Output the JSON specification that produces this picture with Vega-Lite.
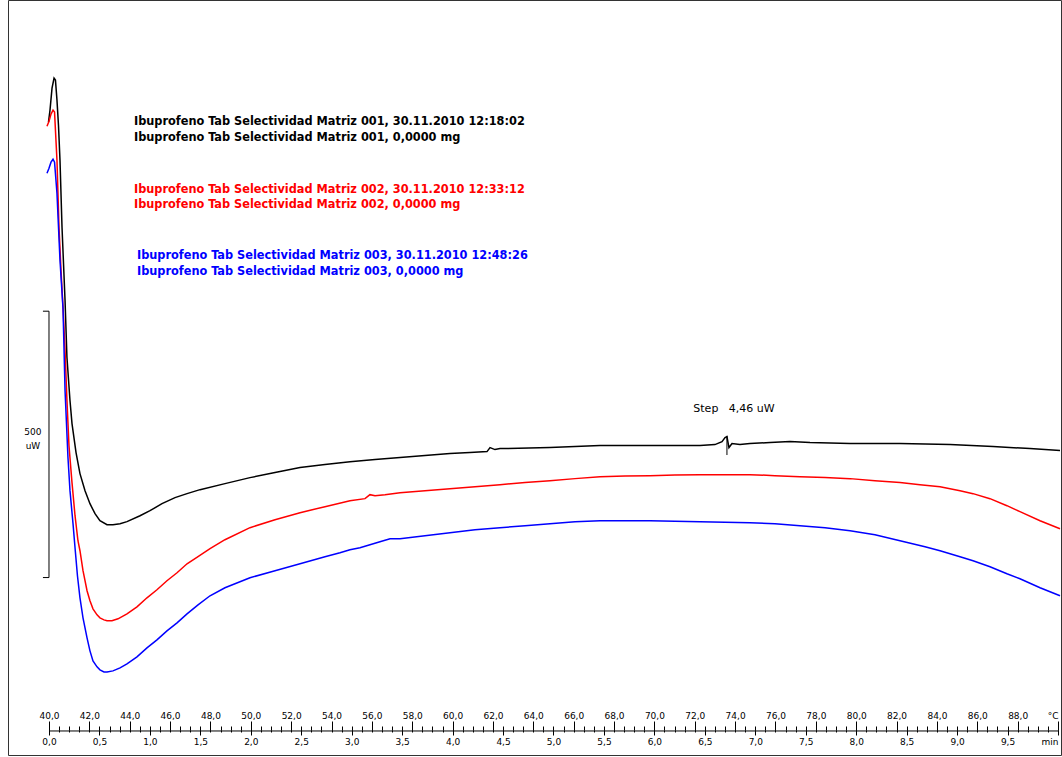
{
  "$schema": "https://vega.github.io/schema/vega-lite/v6.json",
  "width": 1053,
  "height": 755,
  "autosize": {"type": "none"},
  "padding": {"left": 8, "top": 0, "right": 1, "bottom": 2},
  "background": "white",
  "config": {"view": {"stroke": "#333333", "strokeWidth": 1}, "font": "DejaVu Sans"},
  "datasets": {
    "curves": [
      {"s":"001","t":-0.005,"v":1142.9},{"s":"001","t":0.010,"v":1165.4},{"s":"001","t":0.030,"v":1206.8},{"s":"001","t":0.050,"v":1225.6},{"s":"001","t":0.064,"v":1221.8},{"s":"001","t":0.079,"v":1184.2},{"s":"001","t":0.094,"v":1137.2},{"s":"001","t":0.109,"v":1071.4},{"s":"001","t":0.129,"v":945.5},{"s":"001","t":0.159,"v":808.3},{"s":"001","t":0.178,"v":701.1},{"s":"001","t":0.208,"v":620.3},{"s":"001","t":0.228,"v":577.1},{"s":"001","t":0.268,"v":522.6},{"s":"001","t":0.307,"v":483.1},{"s":"001","t":0.357,"v":451.1},{"s":"001","t":0.406,"v":426.7},{"s":"001","t":0.456,"v":407.9},{"s":"001","t":0.505,"v":394.7},{"s":"001","t":0.575,"v":387.2},{"s":"001","t":0.634,"v":387.2},{"s":"001","t":0.704,"v":389.1},{"s":"001","t":0.773,"v":392.9},{"s":"001","t":0.902,"v":404.1},{"s":"001","t":1.001,"v":413.5},{"s":"001","t":1.120,"v":426.7},{"s":"001","t":1.249,"v":438.0},{"s":"001","t":1.368,"v":445.5},{"s":"001","t":1.497,"v":453.0},{"s":"001","t":1.744,"v":464.3},{"s":"001","t":1.992,"v":475.6},{"s":"001","t":2.240,"v":485.0},{"s":"001","t":2.488,"v":494.4},{"s":"001","t":2.735,"v":500.0},{"s":"001","t":2.983,"v":505.6},{"s":"001","t":3.231,"v":509.4},{"s":"001","t":3.479,"v":513.2},{"s":"001","t":3.726,"v":516.9},{"s":"001","t":3.974,"v":520.7},{"s":"001","t":4.172,"v":522.6},{"s":"001","t":4.341,"v":524.4},{"s":"001","t":4.371,"v":532.0},{"s":"001","t":4.420,"v":528.2},{"s":"001","t":4.470,"v":530.1},{"s":"001","t":4.965,"v":532.0},{"s":"001","t":5.461,"v":535.7},{"s":"001","t":5.956,"v":535.7},{"s":"001","t":6.452,"v":535.7},{"s":"001","t":6.600,"v":537.6},{"s":"001","t":6.670,"v":543.2},{"s":"001","t":6.700,"v":550.8},{"s":"001","t":6.719,"v":552.6},{"s":"001","t":6.739,"v":532.0},{"s":"001","t":6.769,"v":539.5},{"s":"001","t":6.848,"v":537.6},{"s":"001","t":6.947,"v":539.5},{"s":"001","t":7.146,"v":541.4},{"s":"001","t":7.344,"v":543.2},{"s":"001","t":7.542,"v":541.4},{"s":"001","t":7.939,"v":539.5},{"s":"001","t":8.434,"v":539.5},{"s":"001","t":8.930,"v":537.6},{"s":"001","t":9.356,"v":533.8},{"s":"001","t":9.722,"v":530.1},{"s":"001","t":10.020,"v":526.3},
      {"s":"002","t":-0.020,"v":1135.3},{"s":"002","t":0.000,"v":1144.7},{"s":"002","t":0.020,"v":1157.9},{"s":"002","t":0.040,"v":1165.4},{"s":"002","t":0.055,"v":1161.7},{"s":"002","t":0.069,"v":1109.0},{"s":"002","t":0.079,"v":1071.4},{"s":"002","t":0.099,"v":945.5},{"s":"002","t":0.119,"v":864.7},{"s":"002","t":0.139,"v":795.1},{"s":"002","t":0.159,"v":714.3},{"s":"002","t":0.178,"v":620.3},{"s":"002","t":0.198,"v":535.7},{"s":"002","t":0.228,"v":466.2},{"s":"002","t":0.258,"v":404.1},{"s":"002","t":0.287,"v":357.1},{"s":"002","t":0.307,"v":338.3},{"s":"002","t":0.337,"v":300.8},{"s":"002","t":0.377,"v":263.2},{"s":"002","t":0.406,"v":244.4},{"s":"002","t":0.436,"v":229.3},{"s":"002","t":0.476,"v":218.0},{"s":"002","t":0.505,"v":212.4},{"s":"002","t":0.545,"v":208.6},{"s":"002","t":0.575,"v":206.8},{"s":"002","t":0.624,"v":206.8},{"s":"002","t":0.684,"v":210.5},{"s":"002","t":0.773,"v":219.9},{"s":"002","t":0.872,"v":233.1},{"s":"002","t":0.971,"v":250.0},{"s":"002","t":1.070,"v":265.0},{"s":"002","t":1.169,"v":282.0},{"s":"002","t":1.269,"v":297.0},{"s":"002","t":1.368,"v":313.9},{"s":"002","t":1.477,"v":327.1},{"s":"002","t":1.596,"v":342.1},{"s":"002","t":1.744,"v":359.0},{"s":"002","t":1.992,"v":381.6},{"s":"002","t":2.240,"v":396.6},{"s":"002","t":2.488,"v":409.8},{"s":"002","t":2.735,"v":421.1},{"s":"002","t":2.983,"v":432.3},{"s":"002","t":3.132,"v":436.1},{"s":"002","t":3.181,"v":443.6},{"s":"002","t":3.231,"v":441.7},{"s":"002","t":3.330,"v":443.6},{"s":"002","t":3.479,"v":447.4},{"s":"002","t":3.726,"v":451.1},{"s":"002","t":3.974,"v":454.9},{"s":"002","t":4.222,"v":458.6},{"s":"002","t":4.470,"v":462.4},{"s":"002","t":4.718,"v":466.2},{"s":"002","t":4.965,"v":469.9},{"s":"002","t":5.213,"v":473.7},{"s":"002","t":5.461,"v":477.4},{"s":"002","t":5.709,"v":478.4},{"s":"002","t":5.956,"v":479.3},{"s":"002","t":6.204,"v":480.3},{"s":"002","t":6.452,"v":481.2},{"s":"002","t":6.700,"v":481.2},{"s":"002","t":6.947,"v":481.2},{"s":"002","t":7.195,"v":479.3},{"s":"002","t":7.443,"v":477.4},{"s":"002","t":7.691,"v":475.6},{"s":"002","t":7.939,"v":473.7},{"s":"002","t":8.186,"v":469.9},{"s":"002","t":8.434,"v":466.2},{"s":"002","t":8.632,"v":462.4},{"s":"002","t":8.831,"v":458.6},{"s":"002","t":9.029,"v":451.1},{"s":"002","t":9.158,"v":445.5},{"s":"002","t":9.326,"v":436.1},{"s":"002","t":9.494,"v":422.9},{"s":"002","t":9.623,"v":411.7},{"s":"002","t":9.822,"v":394.7},{"s":"002","t":10.020,"v":379.7},
      {"s":"003","t":-0.020,"v":1047.0},{"s":"003","t":0.000,"v":1056.4},{"s":"003","t":0.020,"v":1067.7},{"s":"003","t":0.040,"v":1073.3},{"s":"003","t":0.055,"v":1067.7},{"s":"003","t":0.069,"v":1033.8},{"s":"003","t":0.079,"v":1009.4},{"s":"003","t":0.109,"v":883.5},{"s":"003","t":0.139,"v":793.2},{"s":"003","t":0.159,"v":639.1},{"s":"003","t":0.188,"v":513.2},{"s":"003","t":0.208,"v":451.1},{"s":"003","t":0.238,"v":389.1},{"s":"003","t":0.258,"v":344.0},{"s":"003","t":0.282,"v":291.4},{"s":"003","t":0.307,"v":250.0},{"s":"003","t":0.337,"v":212.4},{"s":"003","t":0.377,"v":174.8},{"s":"003","t":0.406,"v":150.4},{"s":"003","t":0.436,"v":131.6},{"s":"003","t":0.476,"v":120.3},{"s":"003","t":0.505,"v":114.7},{"s":"003","t":0.545,"v":110.9},{"s":"003","t":0.575,"v":110.9},{"s":"003","t":0.634,"v":112.8},{"s":"003","t":0.704,"v":118.4},{"s":"003","t":0.773,"v":125.9},{"s":"003","t":0.872,"v":139.1},{"s":"003","t":0.971,"v":156.0},{"s":"003","t":1.070,"v":171.1},{"s":"003","t":1.169,"v":188.0},{"s":"003","t":1.269,"v":203.0},{"s":"003","t":1.368,"v":219.9},{"s":"003","t":1.477,"v":236.8},{"s":"003","t":1.596,"v":253.8},{"s":"003","t":1.744,"v":268.8},{"s":"003","t":1.992,"v":287.6},{"s":"003","t":2.240,"v":300.8},{"s":"003","t":2.488,"v":313.9},{"s":"003","t":2.735,"v":327.1},{"s":"003","t":2.884,"v":334.6},{"s":"003","t":2.983,"v":340.2},{"s":"003","t":3.082,"v":344.0},{"s":"003","t":3.181,"v":349.6},{"s":"003","t":3.280,"v":355.3},{"s":"003","t":3.380,"v":360.9},{"s":"003","t":3.479,"v":360.9},{"s":"003","t":3.726,"v":366.5},{"s":"003","t":3.974,"v":372.2},{"s":"003","t":4.222,"v":377.8},{"s":"003","t":4.470,"v":381.6},{"s":"003","t":4.718,"v":385.3},{"s":"003","t":4.965,"v":389.1},{"s":"003","t":5.213,"v":392.9},{"s":"003","t":5.461,"v":394.7},{"s":"003","t":5.709,"v":394.7},{"s":"003","t":5.956,"v":394.7},{"s":"003","t":6.204,"v":393.8},{"s":"003","t":6.452,"v":392.9},{"s":"003","t":6.700,"v":391.9},{"s":"003","t":6.947,"v":391.0},{"s":"003","t":7.195,"v":389.1},{"s":"003","t":7.443,"v":385.3},{"s":"003","t":7.691,"v":381.6},{"s":"003","t":7.939,"v":375.9},{"s":"003","t":8.186,"v":368.4},{"s":"003","t":8.434,"v":357.1},{"s":"003","t":8.682,"v":345.9},{"s":"003","t":8.831,"v":338.3},{"s":"003","t":9.029,"v":327.1},{"s":"003","t":9.158,"v":319.5},{"s":"003","t":9.326,"v":308.3},{"s":"003","t":9.494,"v":295.1},{"s":"003","t":9.623,"v":285.7},{"s":"003","t":9.822,"v":268.8},{"s":"003","t":10.020,"v":253.8}
    ],
    "axisline": [{"x": 0, "x2": 10, "y": 0, "y2": 0}],
    "scalebar": [
      {"x": 0, "x2": 0, "y": 288, "y2": 788},
      {"x": -0.06, "x2": 0, "y": 288, "y2": 288},
      {"x": -0.06, "x2": 0, "y": 788, "y2": 788}
    ],
    "stepmark": [{"x": 6.719, "x2": 6.719, "y": 518.0, "y2": 554.0}],
    "legendtext": [
      {"s": "001", "x": 0.842, "y": 1144.7, "label": "Ibuprofeno Tab Selectividad Matriz 001, 30.11.2010 12:18:02"},
      {"s": "001", "x": 0.842, "y": 1114.7, "label": "Ibuprofeno Tab Selectividad Matriz 001, 0,0000 mg"},
      {"s": "002", "x": 0.842, "y": 1016.9, "label": "Ibuprofeno Tab Selectividad Matriz 002, 30.11.2010 12:33:12"},
      {"s": "002", "x": 0.842, "y": 988.7, "label": "Ibuprofeno Tab Selectividad Matriz 002, 0,0000 mg"},
      {"s": "003", "x": 0.872, "y": 892.9, "label": "Ibuprofeno Tab Selectividad Matriz 003, 30.11.2010 12:48:26"},
      {"s": "003", "x": 0.872, "y": 862.8, "label": "Ibuprofeno Tab Selectividad Matriz 003, 0,0000 mg"}
    ],
    "steptext": [
      {"x": 6.789, "y": 605.3, "label": "Step\u00a0\u00a0\u00a04,46 uW"}
    ],
    "scaletext": [
      {"x": -0.159, "y": 562.0, "label": "500"},
      {"x": -0.159, "y": 535.7, "label": "uW"}
    ]
  },
  "resolve": {"axis": {"x": "independent", "y": "independent"}},
  "layer": [
    {
      "data": {"name": "curves"},
      "mark": {"type": "line", "strokeWidth": 1.5, "interpolate": "linear"},
      "encoding": {
        "x": {"field": "t", "type": "quantitative", "scale": {"domain": [-0.4063, 10.0297], "nice": false, "zero": false},
          "axis": {"orient": "bottom", "offset": -25, "title": null, "domain": false, "grid": false,
            "values": [0,0.5,1,1.5,2,2.5,3,3.5,4,4.5,5,5.5,6,6.5,7,7.5,8,8.5,9,9.5,10],
            "tickSize": 5, "tickColor": "#000000", "tickWidth": 1,
            "labelFont": "DejaVu Sans", "labelFontSize": 9, "labelColor": "#000000", "labelPadding": 2,
            "labelOverlap": false, "labelFlush": false, "labelBound": false,
            "labelExpr": "datum.value >= 10 ? 'min' : replace(format(datum.value, '.1f'), '.', ',')",
            "labelAlign": {"condition": {"test": "datum.value >= 10", "value": "right"}, "value": "center"}}},
        "y": {"field": "v", "type": "quantitative", "scale": {"domain": [-45.11, 1372.18], "nice": false, "zero": false}, "axis": null},
        "color": {"field": "s", "type": "nominal", "scale": {"domain": ["001", "002", "003"], "range": ["#000000", "#ff0000", "#0000ff"]}, "legend": null}
      }
    },
    {
      "data": {"name": "axisline"},
      "mark": {"type": "rule", "color": "#000000", "strokeWidth": 1},
      "encoding": {
        "x": {"field": "x", "type": "quantitative", "scale": {"domain": [-0.4063, 10.0297], "nice": false, "zero": false},
          "axis": {"orient": "top", "offset": -730, "title": null, "domain": false, "grid": false,
            "values": [0,0.4,0.8,1.2,1.6,2,2.4,2.8,3.2,3.6,4,4.4,4.8,5.2,5.6,6,6.4,6.8,7.2,7.6,8,8.4,8.8,9.2,9.6,10],
            "tickSize": 9, "tickColor": "#000000", "tickWidth": 1,
            "labelFont": "DejaVu Sans", "labelFontSize": 9, "labelColor": "#000000", "labelPadding": 1,
            "labelOverlap": false, "labelFlush": false, "labelBound": false,
            "labelExpr": "datum.value >= 10 ? '°C' : replace(format(40 + 5 * datum.value, '.1f'), '.', ',')",
            "labelAlign": {"condition": {"test": "datum.value >= 10", "value": "right"}, "value": "center"}}},
        "x2": {"field": "x2"},
        "y": {"field": "y", "type": "quantitative", "scale": {"domain": [-45.11, 1372.18], "nice": false, "zero": false}, "axis": null}
      }
    },
    {
      "data": {"name": "scalebar"},
      "mark": {"type": "rule", "color": "#000000", "strokeWidth": 1},
      "encoding": {
        "x": {"field": "x", "type": "quantitative", "scale": {"domain": [-0.4063, 10.0297], "nice": false, "zero": false},
          "axis": {"orient": "top", "offset": -730, "title": null, "domain": false, "grid": false, "labels": false,
            "values": [0,0.1,0.2,0.3,0.4,0.5,0.6,0.7,0.8,0.9,1,1.1,1.2,1.3,1.4,1.5,1.6,1.7,1.8,1.9,2,2.1,2.2,2.3,2.4,2.5,2.6,2.7,2.8,2.9,3,3.1,3.2,3.3,3.4,3.5,3.6,3.7,3.8,3.9,4,4.1,4.2,4.3,4.4,4.5,4.6,4.7,4.8,4.9,5,5.1,5.2,5.3,5.4,5.5,5.6,5.7,5.8,5.9,6,6.1,6.2,6.3,6.4,6.5,6.6,6.7,6.8,6.9,7,7.1,7.2,7.3,7.4,7.5,7.6,7.7,7.8,7.9,8,8.1,8.2,8.3,8.4,8.5,8.6,8.7,8.8,8.9,9,9.1,9.2,9.3,9.4,9.5,9.6,9.7,9.8,9.9,10],
            "tickSize": 4, "tickColor": "#000000", "tickWidth": 1}},
        "x2": {"field": "x2"},
        "y": {"field": "y", "type": "quantitative", "scale": {"domain": [-45.11, 1372.18], "nice": false, "zero": false}, "axis": null},
        "y2": {"field": "y2"}
      }
    },
    {
      "data": {"name": "stepmark"},
      "mark": {"type": "rule", "color": "#000000", "strokeWidth": 1},
      "encoding": {
        "x": {"field": "x", "type": "quantitative", "scale": {"domain": [-0.4063, 10.0297], "nice": false, "zero": false},
          "axis": {"orient": "bottom", "offset": -25, "title": null, "domain": false, "grid": false, "labels": false,
            "values": [0,0.1,0.2,0.3,0.4,0.5,0.6,0.7,0.8,0.9,1,1.1,1.2,1.3,1.4,1.5,1.6,1.7,1.8,1.9,2,2.1,2.2,2.3,2.4,2.5,2.6,2.7,2.8,2.9,3,3.1,3.2,3.3,3.4,3.5,3.6,3.7,3.8,3.9,4,4.1,4.2,4.3,4.4,4.5,4.6,4.7,4.8,4.9,5,5.1,5.2,5.3,5.4,5.5,5.6,5.7,5.8,5.9,6,6.1,6.2,6.3,6.4,6.5,6.6,6.7,6.8,6.9,7,7.1,7.2,7.3,7.4,7.5,7.6,7.7,7.8,7.9,8,8.1,8.2,8.3,8.4,8.5,8.6,8.7,8.8,8.9,9,9.1,9.2,9.3,9.4,9.5,9.6,9.7,9.8,9.9,10],
            "tickSize": 2, "tickColor": "#000000", "tickWidth": 1}},
        "x2": {"field": "x2"},
        "y": {"field": "y", "type": "quantitative", "scale": {"domain": [-45.11, 1372.18], "nice": false, "zero": false}, "axis": null},
        "y2": {"field": "y2"}
      }
    },
    {
      "data": {"name": "legendtext"},
      "mark": {"type": "text", "align": "left", "baseline": "middle", "font": "DejaVu Sans Condensed, Liberation Sans", "fontSize": 12.6, "fontWeight": "bold"},
      "encoding": {
        "x": {"field": "x", "type": "quantitative", "scale": {"domain": [-0.4063, 10.0297], "nice": false, "zero": false}, "axis": null},
        "y": {"field": "y", "type": "quantitative", "scale": {"domain": [-45.11, 1372.18], "nice": false, "zero": false}, "axis": null},
        "text": {"field": "label"},
        "color": {"field": "s", "type": "nominal", "scale": {"domain": ["001", "002", "003"], "range": ["#000000", "#ff0000", "#0000ff"]}, "legend": null}
      }
    },
    {
      "data": {"name": "steptext"},
      "mark": {"type": "text", "align": "center", "baseline": "middle", "font": "DejaVu Sans", "fontSize": 11, "color": "#000000"},
      "encoding": {
        "x": {"field": "x", "type": "quantitative", "scale": {"domain": [-0.4063, 10.0297], "nice": false, "zero": false}, "axis": null},
        "y": {"field": "y", "type": "quantitative", "scale": {"domain": [-45.11, 1372.18], "nice": false, "zero": false}, "axis": null},
        "text": {"field": "label"}
      }
    },
    {
      "data": {"name": "scaletext"},
      "mark": {"type": "text", "align": "center", "baseline": "middle", "font": "DejaVu Sans", "fontSize": 9, "color": "#000000"},
      "encoding": {
        "x": {"field": "x", "type": "quantitative", "scale": {"domain": [-0.4063, 10.0297], "nice": false, "zero": false}, "axis": null},
        "y": {"field": "y", "type": "quantitative", "scale": {"domain": [-45.11, 1372.18], "nice": false, "zero": false}, "axis": null},
        "text": {"field": "label"}
      }
    }
  ]
}
